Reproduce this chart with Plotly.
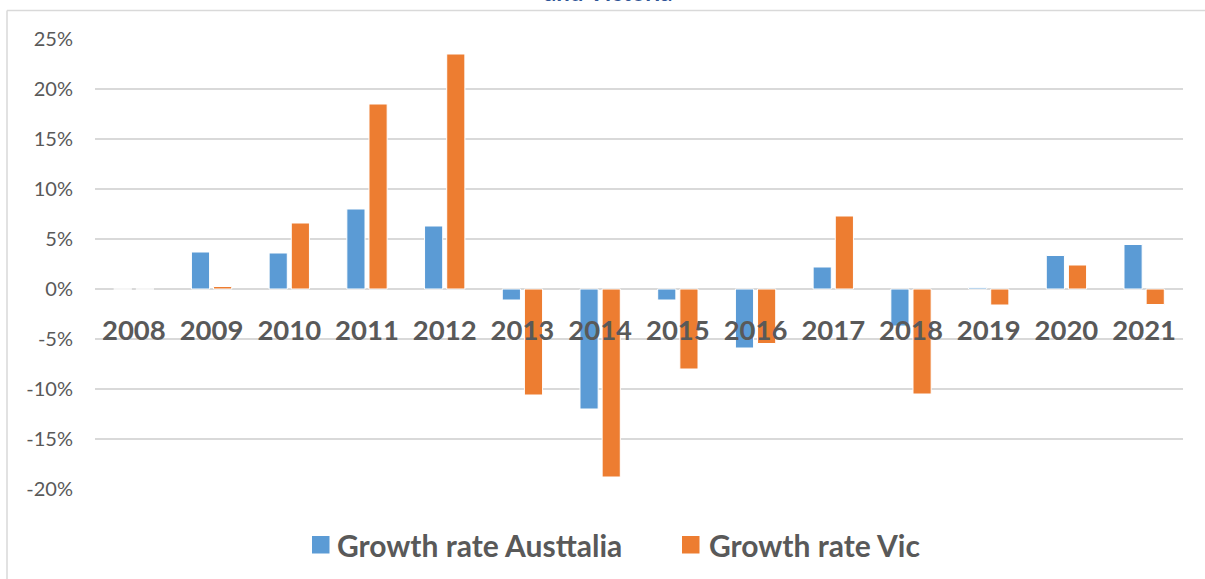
import plotly.graph_objects as go

years = ["2008", "2009", "2010", "2011", "2012", "2013", "2014",
         "2015", "2016", "2017", "2018", "2019", "2020", "2021"]
growth_aus = [0.0, 3.7, 3.6, 8.0, 6.3, -1.1, -12.0, -1.1, -5.9, 2.2, -3.7, 0.13, 3.35, 4.45]
growth_vic = [0.0, 0.25, 6.6, 18.5, 23.5, -10.6, -18.8, -8.0, -5.45, 7.3, -10.5, -1.6, 2.4, -1.55]
series_names = ["Growth rate Austtalia", "Growth rate Vic"]
y_ticks = [-20, -15, -10, -5, 0, 5, 10, 15, 20, 25]
y_ticklabels = ["-20%", "-15%", "-10%", "-5%", "0%", "5%", "10%", "15%", "20%", "25%"]
title_text = "and Victoria"

BLUE = "#5B9BD5"
ORANGE = "#ED7D31"
GRID = "#D9D9D9"
TXT = "#595959"
FONT = "Lato"

W, H = 1205, 579
ML, MR, MT, MB = 95, 22, 39, 90
PW = W - ML - MR
PH = H - MT - MB
y_min, y_max = -20, 25


def px_to_paper_x(px):
    return (px - ML) / PW


def px_to_paper_y(py):
    return (H - MB - py) / PH


fig = go.Figure()
fig.add_trace(go.Bar(x=years, y=growth_aus, name=series_names[0],
                     marker=dict(color=BLUE, line=dict(color="white", width=1))))
fig.add_trace(go.Bar(x=years, y=growth_vic, name=series_names[1],
                     marker=dict(color=ORANGE, line=dict(color="white", width=1))))

zero_pos = (0 - y_min) / (y_max - y_min)

fig.update_layout(
    width=W, height=H,
    margin=dict(l=ML, r=MR, t=MT, b=MB, pad=0),
    paper_bgcolor="white", plot_bgcolor="white",
    barmode="group", bargap=0.43, bargroupgap=0.18,
    font=dict(family=FONT, color=TXT),
    showlegend=False,
    xaxis=dict(type="category", anchor="free", position=zero_pos,
               showgrid=False, showline=False, ticks="",
               tickfont=dict(family=FONT, size=27.5, color=TXT, weight="bold"),
               ticklabelstandoff=22, range=[-0.5, 13.5]),
    yaxis=dict(range=[y_min, y_max], tickmode="array", tickvals=y_ticks, ticktext=y_ticklabels,
               showgrid=True, gridcolor=GRID, gridwidth=1.5,
               zeroline=True, zerolinecolor=GRID, zerolinewidth=1.5,
               showline=False, ticks="", ticklabelstandoff=21,
               tickfont=dict(family=FONT, size=20, color=TXT)),
)

# chart-area border (left and top edges visible)
bx = px_to_paper_x(7)
by = px_to_paper_y(10.5)
fig.add_shape(type="line", xref="paper", yref="paper",
              x0=bx, x1=bx, y0=px_to_paper_y(H + 5), y1=by,
              line=dict(color=GRID, width=1.5))
fig.add_shape(type="line", xref="paper", yref="paper",
              x0=bx, x1=px_to_paper_x(W + 5), y0=by, y1=by,
              line=dict(color=GRID, width=1.5))

# legend drawn below the plot (square swatches + bold labels)
legend_items = [(series_names[0], BLUE, 312, 335), (series_names[1], ORANGE, 682, 707)]
for name, color, sq_x, tx_x in legend_items:
    fig.add_shape(type="rect", xref="paper", yref="paper",
                  x0=px_to_paper_x(sq_x), x1=px_to_paper_x(sq_x + 17.5),
                  y0=px_to_paper_y(553.5), y1=px_to_paper_y(536),
                  line=dict(width=0), fillcolor=color)
    fig.add_annotation(text=name, xref="paper", yref="paper",
                       x=px_to_paper_x(tx_x), y=px_to_paper_y(545),
                       xanchor="left", yanchor="middle", showarrow=False,
                       font=dict(family=FONT, size=30, color=TXT, weight="bold"))

# cut-off title (only last line visible)
fig.add_annotation(text=title_text, xref="paper", yref="paper",
                   x=px_to_paper_x(608), y=px_to_paper_y(8), xanchor="center", yanchor="bottom",
                   showarrow=False,
                   font=dict(family=FONT, size=24, color="#2F5597", weight="bold"))

fig.write_html("out.html")
